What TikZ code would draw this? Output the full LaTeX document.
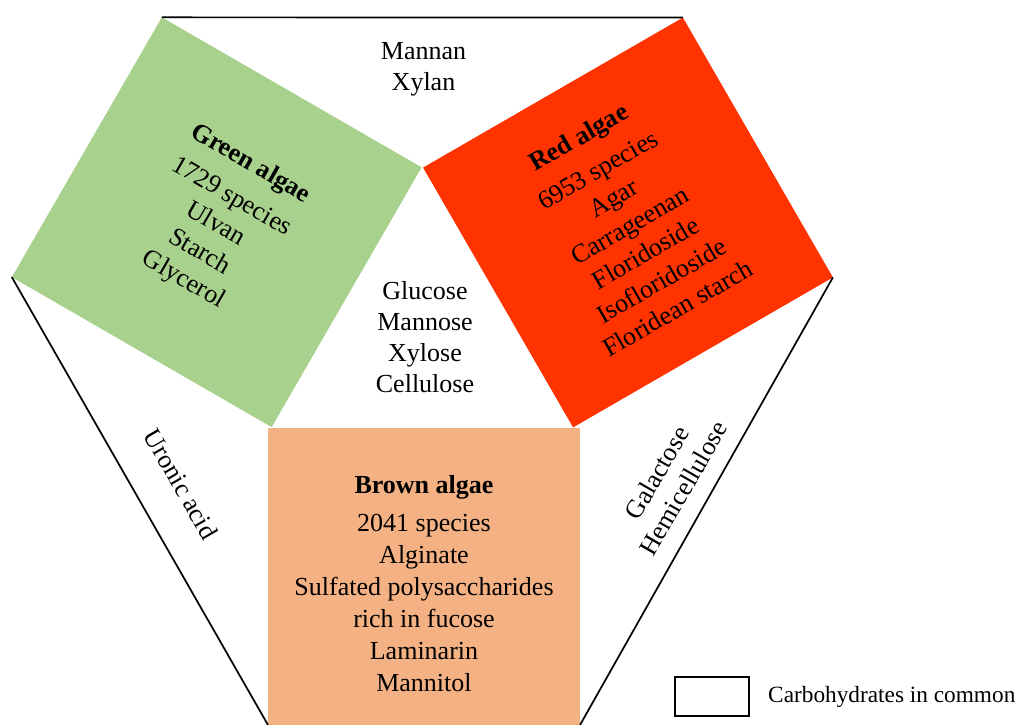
\documentclass[tikz,border=0pt]{standalone}
\usepackage{fontspec}
\setmainfont{Liberation Serif}
\definecolor{greenfill}{HTML}{A9D18E}
\definecolor{redfill}{HTML}{FF3300}
\definecolor{brownfill}{HTML}{F4B183}
\begin{document}
\begin{tikzpicture}[x=1pt,y=1pt,
  sq/.style={minimum size=300pt, inner sep=0pt, outer sep=0pt, align=center, font=\fontsize{26}{32}\selectfont},
  edgeline/.style={line width=1.7pt, black},
  lbl/.style={align=center, inner sep=0pt, font=\fontsize{26}{31}\selectfont}]
\useasboundingbox (0,0) rectangle (1017,725);
\node[sq, fill=greenfill, rotate=-30] (green) at (216.75,502.75)
  {\textbf{Green algae}\\[6pt]1729 species\\Ulvan\\Starch\\Glycerol};
\node[sq, fill=redfill, rotate=30] (red) at (628,502.5)
  {\textbf{Red algae}\\[6pt]6953 species\\Agar\\Carrageenan\\Floridoside\\Isofloridoside\\Floridean starch};
\node[fill=brownfill, minimum width=312pt, minimum height=297pt, inner sep=0pt, outer sep=0pt,
  font=\fontsize{26}{32}\selectfont] (brown) at (424,148.5)
  {\raisebox{-10pt}[\height][\depth]{\begin{tabular}{@{}c@{}}\textbf{Brown algae}\\[6pt]2041 species\\Alginate\\Sulfated polysaccharides\\rich in fucose\\Laminarin\\Mannitol\end{tabular}}};
\draw[edgeline] (green.north west) -- (red.north east);
\draw[edgeline] (green.south west) -- (brown.south west);
\draw[edgeline] (red.south east) -- (brown.south east);
\node[lbl] (mannan) at (423.5,655.5) {Mannan\\Xylan};
\node[lbl] (glucose) at (425,388) {Glucose\\Mannose\\Xylose\\Cellulose};
\node[lbl, rotate=-60] (uronic) at (181,241) {Uronic acid};
\node[lbl, rotate=60] (galact) at (670,244.3) {Galactose\\Hemicellulose};
\node[draw, line width=1.7pt, minimum width=74pt, minimum height=39pt, inner sep=0pt] (legbox) at (712,28.5) {};
\node[anchor=west, inner sep=0pt, font=\fontsize{23.3}{24}\selectfont] (legtext) at (768,28) {Carbohydrates in common};
\end{tikzpicture}
\end{document}
